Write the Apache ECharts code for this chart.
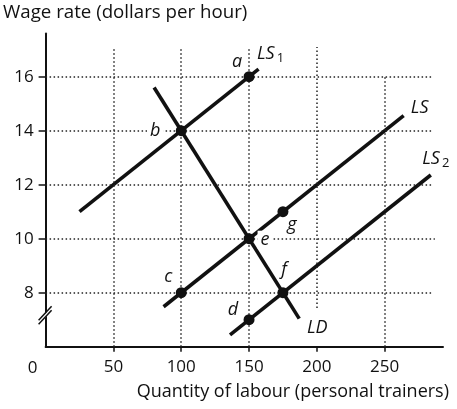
<!DOCTYPE html>
<html><head><meta charset="utf-8">
<script src="https://cdn.jsdelivr.net/npm/echarts@6/dist/echarts.min.js"></script>
<style>html,body{margin:0;padding:0;background:#fff}#c{width:457px;height:409px}</style>
</head><body><div id="c"></div>
<script>
// ---- data ----
const xTicks = [50, 100, 150, 200, 250];
const yTicks = [8, 10, 12, 14, 16];
const LS1 = [[25, 11], [157, 16.28]];
const LS = [[87, 7.48], [264, 14.56]];
const LS2 = [[136, 6.44], [284, 12.36]];
const LD = [[80, 15.6], [187, 7.04]];
const pointNames = ['a', 'b', 'c', 'd', 'e', 'f', 'g'];
const pointValues = [[150, 16], [100, 14], [100, 8], [150, 7], [150, 10], [175, 8], [175, 11]];
const vGrid = [[50, 6, 17.1], [100, 6, 17.1], [150, 6, 17.1], [200, 7.43, 17.1], [250, 6, 16]];
const hGrid = [[16, 0, 285], [14, 0, 286], [12, 0, 286], [10, 0, 287], [8, 0, 285]];
const xTitle = 'Quantity of labour (personal trainers)';
const yTitle = 'Wage rate (dollars per hour)';

// ---- styles ----
const FONT = '"Open Sans"';
const INK = '#111';
const pointOffsets = { a: [-12, -15], b: [-26, 0], c: [-13, -16], d: [-16, -10], e: [16, 1], f: [1, -23], g: [9, 13] };
const rich = {
  m: { fontFamily: FONT, fontStyle: 'italic', fontSize: 18, color: INK },
  s: { fontFamily: FONT, fontSize: 13, color: INK, padding: [8, 0, 0, 2] }
};

const chart = echarts.init(document.getElementById('c'), null, { renderer: 'canvas' });

const markData = [];
vGrid.forEach(g => markData.push([{ coord: [g[0], g[1]] }, { coord: [g[0], g[2]] }]));
hGrid.forEach(g => markData.push([{ coord: [g[1], g[0]] }, { coord: [g[2], g[0]] }]));

function curve(name, data, labelText, offset) {
  return {
    type: 'line', name, z: 3,
    data: data.map((d, i) => i === data.length - 1 ? {
      value: d,
      label: { show: true, offset, formatter: labelText }
    } : { value: d }),
    label: { show: false, position: 'inside', color: INK, rich },
    symbol: 'circle', symbolSize: 0, showSymbol: true,
    lineStyle: { color: INK, width: 3.6 },
    itemStyle: { color: INK },
    emphasis: { disabled: true },
    silent: true
  };
}

chart.setOption({
  animation: false,
  grid: { left: 45.6, right: 14, top: 33.5, bottom: 62.3 },
  xAxis: {
    type: 'value', min: 0, max: 293,
    axisLine: { show: true, lineStyle: { color: INK, width: 2 } },
    axisTick: { show: true, length: 5, lineStyle: { color: INK, width: 1.5 }, customValues: xTicks },
    axisLabel: { show: true, customValues: xTicks, margin: 12, fontFamily: FONT, fontSize: 17, color: INK },
    splitLine: { show: false }
  },
  yAxis: {
    type: 'value', min: 6, max: 17.6,
    axisLine: { show: true, lineStyle: { color: INK, width: 2 } },
    axisTick: { show: true, length: 7, lineStyle: { color: INK, width: 1.5 }, customValues: yTicks },
    axisLabel: { show: true, customValues: yTicks, margin: 12, fontFamily: FONT, fontSize: 17, color: INK },
    splitLine: { show: false }
  },
  series: [
    {
      type: 'line', data: [], z: 1,
      markLine: {
        silent: true, symbol: 'none', label: { show: false },
        lineStyle: { color: '#222', width: 1.5, type: [1.5, 2.5] },
        emphasis: { disabled: true },
        data: markData
      }
    },
    curve('LS1', LS1, '{m|LS}{s|1}', [12, -15]),
    curve('LS', LS, '{m|LS}', [16, -8]),
    curve('LS2', LS2, '{m|LS}{s|2}', [5, -16]),
    curve('LD', LD, '{m|LD}', [18, 9]),
    {
      type: 'scatter', z: 5,
      symbol: 'circle', symbolSize: 11,
      itemStyle: { color: INK, opacity: 1 },
      emphasis: { disabled: true },
      silent: true,
      label: {
        show: true, position: 'inside', color: INK,
        fontFamily: FONT, fontStyle: 'italic', fontSize: 18, padding: [0, 3]
      },
      data: pointValues.map((v, i) => ({
        value: v,
        label: {
          offset: pointOffsets[pointNames[i]],
          formatter: pointNames[i],
          backgroundColor: (pointNames[i] === 'b' || pointNames[i] === 'e') ? '#fff' : 'transparent'
        }
      }))
    }
  ]
});

const o = chart.convertToPixel({ gridIndex: 0 }, [0, 6]);
const br = chart.convertToPixel({ gridIndex: 0 }, [0, 7.2]);
chart.setOption({
  graphic: [
    { type: 'text', left: 3, top: 3, style: { text: yTitle, font: '18.7px ' + FONT, fill: INK } },
    { type: 'text', right: 8, top: 383, style: { text: xTitle, font: '18px ' + FONT, fill: INK } },
    { type: 'text', x: o[0] - 13, y: o[1] + 21, style: { text: '0', font: '17px ' + FONT, fill: INK, align: 'center', verticalAlign: 'middle' } },
    { type: 'polygon', z: 100, shape: { points: [[br[0] - 6, br[1] + 5], [br[0] + 6, br[1] - 7], [br[0] + 6, br[1] - 3], [br[0] - 6, br[1] + 9]] }, style: { fill: '#fff' } },
    { type: 'line', z: 101, shape: { x1: br[0] - 7, y1: br[1] + 6, x2: br[0] + 6, y2: br[1] - 8 }, style: { stroke: INK, lineWidth: 1.5 } },
    { type: 'line', z: 101, shape: { x1: br[0] - 7, y1: br[1] + 10, x2: br[0] + 6, y2: br[1] - 4 }, style: { stroke: INK, lineWidth: 1.5 } }
  ]
});
</script></body></html>
